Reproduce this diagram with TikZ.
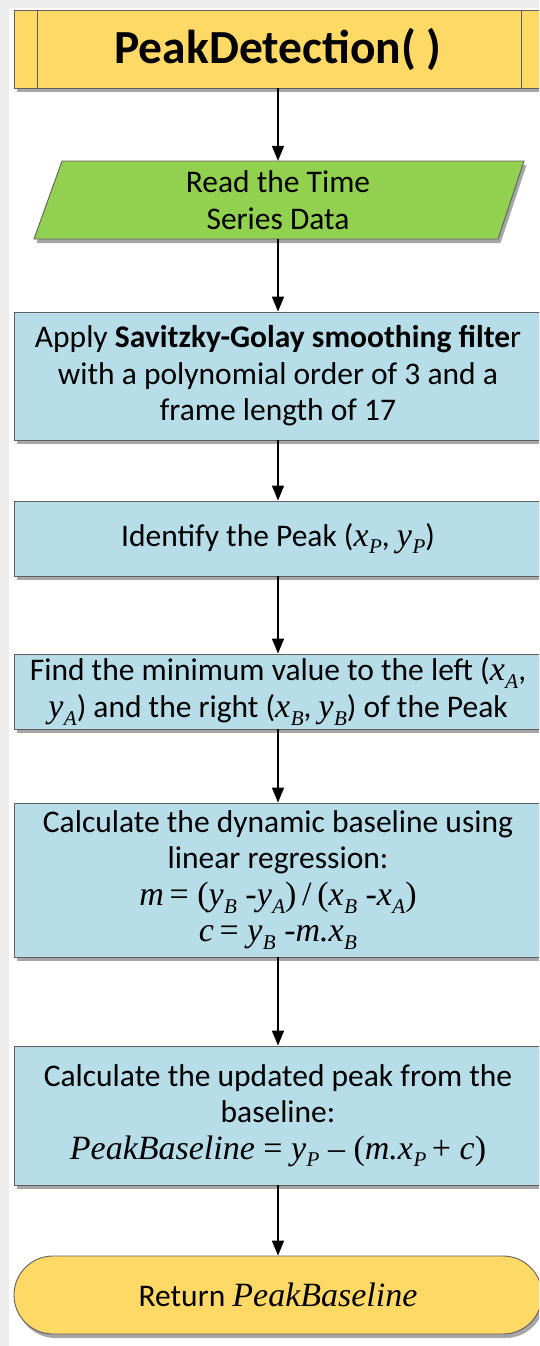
\documentclass[tikz,border=0pt]{standalone}
\usepackage{fontspec}
\setmainfont{Carlito}
\newfontfamily\serifm{Liberation Serif}
\usetikzlibrary{shapes.misc,shadows,arrows.meta}
\newcommand{\mi}[1]{{\fontsize{34}{36.5}\selectfont\serifm\itshape #1}}
\newcommand{\vv}[2]{\mi{#1}\kern0.5pt{\raisebox{-0.25em}{\fontsize{21}{21}\selectfont\serifm\itshape #2}}}
\newcommand{\op}[1]{{\fontsize{34}{36.5}\selectfont\serifm #1}}
\definecolor{hdr}{HTML}{FFD966}
\definecolor{grn}{HTML}{92D050}
\definecolor{blu}{HTML}{B7DEE8}
\definecolor{edgec}{HTML}{5F5F5F}
\definecolor{bgc}{HTML}{ECECEC}
\tikzset{
  shad/.style={drop shadow={shadow xshift=2.5pt,shadow yshift=-4pt,opacity=0.35,fill=black}},
  txt/.style={align=center,font=\fontsize{31.5}{36.5}\selectfont,inner sep=0pt},
  box/.style={txt,rectangle,draw=edgec,line width=0.9pt,fill=blu,minimum width=528pt,shad},
  hdrbox/.style={rectangle,draw=edgec,line width=0.9pt,fill=hdr,minimum width=528pt,minimum height=78pt,shad,font=\fontsize{47.5}{50}\selectfont\bfseries,inner sep=0pt},
  parabox/.style={draw=edgec,line width=0.9pt,fill=grn,shad},
  termbox/.style={txt,rounded rectangle,draw=edgec,line width=0.9pt,fill=hdr,minimum width=528pt,minimum height=78pt,shad},
  flow/.style={line width=1.7pt,-{Triangle[length=15pt,width=12pt]}}
}
\begin{document}
\begin{tikzpicture}[x=1pt,y=-1pt]
\useasboundingbox (0,0) rectangle (539,1346);
\clip (0,0) rectangle (539,1346);
\fill[bgc] (0,0) rectangle (539,1346);
\fill[white] (9,8) rectangle (539,1346);
% header
\node[hdrbox] (head) at (278,49) {PeakDetection( )};
\draw[edgec,line width=0.9pt] (37,10) -- (37,88) (521,10) -- (521,88);
% parallelogram
\filldraw[parabox] (62,161) -- (524,161) -- (498,239) -- (34,239) -- cycle;
\node[txt,minimum height=78pt] (read) at (278,200) {Read the Time\\Series Data};
% boxes
\node[box,minimum height=128pt] (sg) at (278,376) {Apply \textbf{Savitzky-Golay smoothing filte}r\\with a polynomial order of 3 and a\\frame length of 17};
\node[box,minimum height=75pt] (ident) at (278,538.5) {Identify the Peak (\vv{x}{P}, \vv{y}{P})};
\node[box,minimum height=75pt] (find) at (278,691.5) {Find the minimum value to the left (\vv{x}{A},\\\vv{y}{A}) and the right (\vv{x}{B}, \vv{y}{B}) of the Peak};
\node[box,minimum height=154pt] (calc) at (278,880) {Calculate the dynamic baseline using\\linear regression:\\\mi{m}\op{\,=\ (}\vv{y}{B}\op{\ -}\vv{y}{A}\op{)\,/\,(}\vv{x}{B}\op{\ -}\vv{x}{A}\op{)}\\\mi{c}\op{\,=\ }\vv{y}{B}\op{\ -}\mi{m.}\vv{x}{B}};
\node[box,minimum height=139pt] (upd) at (278,1115.5) {Calculate the updated peak from the\\baseline:\\\mi{PeakBaseline}\op{\ =\ }\vv{y}{P}\op{\ – (}\mi{m.}\vv{x}{P}\op{\,+\ }\mi{c}\op{)}};
\node[termbox] (ret) at (278,1295) {Return \mi{PeakBaseline}};
% connectors
\draw[flow] (head.south) -- (read.north);
\draw[flow] (read.south) -- (sg.north);
\draw[flow] (sg.south) -- (ident.north);
\draw[flow] (ident.south) -- (find.north);
\draw[flow] (find.south) -- (calc.north);
\draw[flow] (calc.south) -- (upd.north);
\draw[flow] (upd.south) -- (ret.north);
\end{tikzpicture}
\end{document}
